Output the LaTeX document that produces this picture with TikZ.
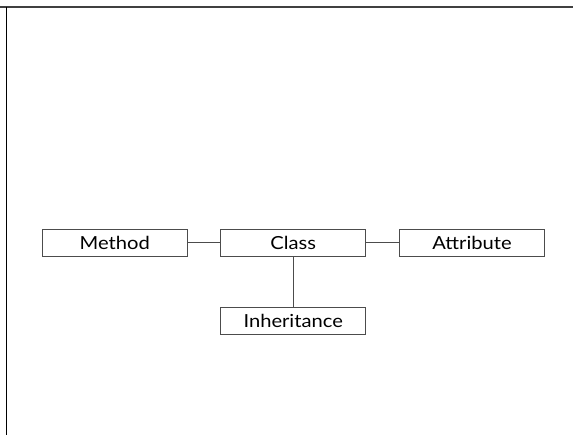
\documentclass[tikz,border=0pt]{standalone}
\usepackage{fontspec}
\setmainfont{Lato}[FakeStretch=1.12]
\begin{document}
\begin{tikzpicture}[x=1pt,y=-1pt,
  entity/.style={draw=black!70, line width=0.9pt, minimum width=145pt, minimum height=27pt,
    inner sep=0pt, font=\fontsize{18}{20}\selectfont, text=black},
  link/.style={draw=black!70, line width=0.9pt}]
  \useasboundingbox (0,0) rectangle (573,435);
  % frame edges
  \draw[black!75, line width=1.2pt] (0,7) -- (573,7);
  \draw[black, line width=1.8pt] (6.5,7) -- (6.5,435);
  % entities
  \node[entity] (method) at (114.8,242.7) {Method};
  \node[entity] (class) at (293.2,242.7) {Class};
  \node[entity] (attr) at (472,242.7) {Attribute};
  \node[entity] (inh) at (293.2,321.2) {Inheritance};
  % relations
  \draw[link] (method) -- (class);
  \draw[link] (class) -- (attr);
  \draw[link] (class) -- (inh);
\end{tikzpicture}
\end{document}
